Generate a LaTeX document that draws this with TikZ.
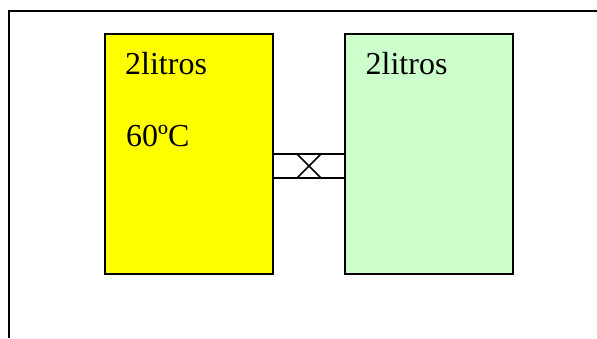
\documentclass[tikz,border=0pt]{standalone}
\usepackage{fontspec}
\setmainfont{Liberation Serif}
\definecolor{tankyellow}{HTML}{FFFF00}
\definecolor{tankgreen}{HTML}{CCFFCC}
\begin{document}
\begin{tikzpicture}[x=1bp,y=-1bp,
  tank/.style={draw=black, line width=1.5bp, minimum width=168bp, minimum height=240bp, inner sep=0pt, outer sep=0pt},
  lbl/.style={anchor=base west, inner sep=0pt, font=\fontsize{32bp}{36bp}\selectfont},
  pipe/.style={line width=1.5bp, draw=black}]
\useasboundingbox (0,0) rectangle (597,338);
\draw[line width=2bp] (9,338) -- (9,10.5) -- (597,10.5);
\node[tank, fill=tankyellow] (hot) at (189,154) {};
\node[tank, fill=tankgreen] (cold) at (429,154) {};
\node[lbl] (t1) at (125,74.3) {2litros};
\node[lbl] (t2) at (126,146.7) {60ºC};
\node[lbl] (t3) at (365.5,74.3) {2litros};
\coordinate (ptl) at (273,154);
\coordinate (pbl) at (273,178);
\coordinate (ptr) at (345,154);
\coordinate (pbr) at (345,178);
\coordinate (xa) at (297,154);
\coordinate (xb) at (321,178);
\coordinate (xc) at (297,178);
\coordinate (xd) at (321,154);
\draw[pipe] (ptl) -- (ptr);
\draw[pipe] (pbl) -- (pbr);
\draw[pipe] (xa) -- (xb);
\draw[pipe] (xc) -- (xd);
\end{tikzpicture}
\end{document}
